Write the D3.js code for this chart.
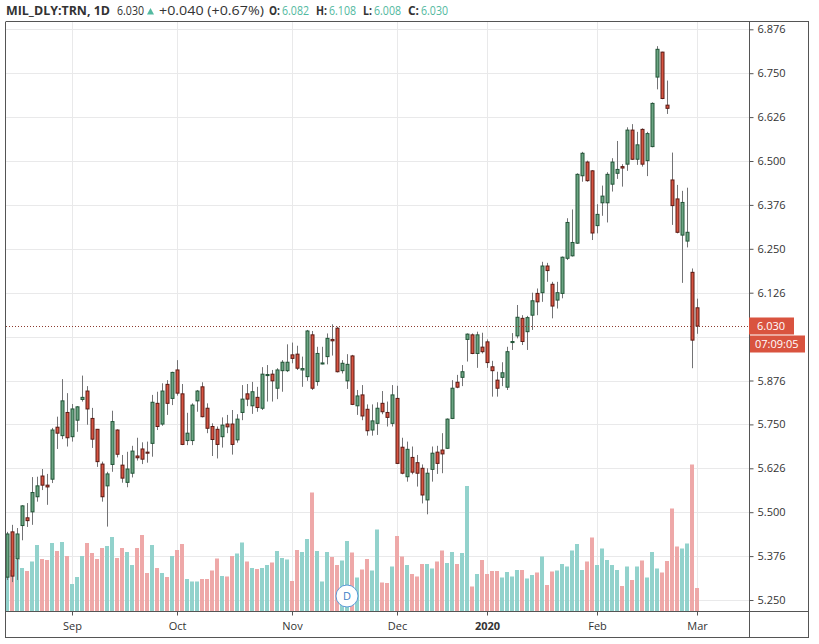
<!DOCTYPE html>
<html>
<head>
<meta charset="utf-8">
<script src="https://cdn.jsdelivr.net/npm/d3@7"></script>
<style>
  body { margin: 0; background: #fff; }
  svg { display: block; font-family: "Open Sans", sans-serif; }
</style>
</head>
<body>
<svg width="819" height="644"></svg>
<script>
// daily bars, Aug 13 2019 .. Mar 2 2020 (index = trading day)
var opens = [5.315,5.444,5.367,5.462,5.484,5.501,5.544,5.603,5.577,5.594,5.742,5.718,5.784,5.715,5.762,5.821,5.845,5.767,5.736,5.637,
  5.575,5.636,5.734,5.634,5.585,5.611,5.660,5.680,5.671,5.696,5.810,5.751,5.864,5.824,5.905,5.837,5.704,5.704,5.817,5.857,
  5.796,5.744,5.736,5.715,5.751,5.751,5.706,5.784,5.837,5.803,5.827,5.796,5.889,5.893,5.853,5.903,5.903,5.948,5.950,5.905,
  5.886,6.005,5.872,5.922,5.943,5.992,6.024,5.903,5.874,5.945,5.803,5.834,5.793,5.734,5.753,5.810,5.784,5.753,5.824,5.685,
  5.601,5.656,5.641,5.625,5.535,5.622,5.671,5.677,5.682,5.767,5.870,5.884,5.992,6.005,5.952,5.970,5.985,5.914,5.876,5.884,
  5.856,5.983,6.002,6.052,6.014,6.061,6.123,6.125,6.201,6.149,6.104,6.123,6.223,6.230,6.266,6.458,6.497,6.472,6.316,6.381,
  6.381,6.434,6.465,6.484,6.491,6.588,6.505,6.590,6.501,6.541,6.739,6.810,6.659,6.446,6.392,6.289,6.272,6.183,6.082];
var highs = [5.444,5.464,5.455,5.520,5.526,5.600,5.601,5.623,5.609,5.740,5.772,5.879,5.839,5.808,5.802,5.889,5.859,5.797,5.737,5.644,
  5.615,5.789,5.736,5.663,5.672,5.689,5.712,5.699,5.701,5.834,5.843,5.867,5.876,5.900,5.933,5.865,5.783,5.810,5.848,5.870,
  5.810,5.753,5.744,5.770,5.777,5.791,5.779,5.862,5.865,5.871,5.857,5.913,5.919,5.905,5.910,5.933,5.978,5.983,5.974,5.943,
  6.019,6.016,5.971,5.971,6.009,6.035,6.028,5.933,5.950,5.948,5.848,5.862,5.807,5.807,5.813,5.845,5.815,5.862,5.860,5.712,
  5.701,5.687,5.663,5.636,5.625,5.687,5.689,5.725,5.767,5.876,5.891,5.919,6.009,6.009,6.014,6.011,5.992,5.931,5.900,5.927,
  5.971,6.010,6.090,6.061,6.059,6.125,6.137,6.213,6.210,6.156,6.156,6.228,6.337,6.362,6.465,6.526,6.501,6.474,6.377,6.430,
  6.468,6.508,6.557,6.491,6.596,6.605,6.583,6.593,6.583,6.667,6.827,6.811,6.729,6.524,6.432,6.415,6.424,6.194,6.108];
var lows = [5.307,5.301,5.307,5.420,5.458,5.464,5.530,5.563,5.521,5.583,5.680,5.708,5.687,5.701,5.729,5.815,5.749,5.683,5.629,5.530,
  5.459,5.615,5.656,5.584,5.571,5.599,5.647,5.637,5.641,5.658,5.734,5.746,5.777,5.805,5.832,5.691,5.691,5.691,5.786,5.770,
  5.725,5.660,5.653,5.684,5.725,5.664,5.698,5.762,5.802,5.780,5.786,5.791,5.815,5.815,5.822,5.843,5.899,5.924,5.905,5.857,
  5.874,5.848,5.860,5.921,5.921,5.946,5.898,5.895,5.851,5.805,5.777,5.762,5.718,5.718,5.720,5.779,5.744,5.744,5.637,5.608,
  5.587,5.608,5.573,5.525,5.494,5.587,5.609,5.611,5.680,5.765,5.853,5.859,5.929,5.950,5.911,5.952,5.911,5.829,5.829,5.859,
  5.848,5.962,5.995,5.976,5.962,6.019,6.061,6.099,6.156,6.052,6.080,6.109,6.218,6.228,6.264,6.441,6.441,6.275,6.294,6.344,
  6.325,6.413,6.449,6.427,6.472,6.503,6.489,6.484,6.457,6.539,6.704,6.676,6.634,6.318,6.294,6.153,6.254,5.910,6.008];
var closes = [5.438,5.318,5.438,5.518,5.476,5.556,5.575,5.577,5.572,5.734,5.725,5.817,5.712,5.794,5.800,5.827,5.794,5.708,5.644,5.544,
  5.609,5.758,5.665,5.597,5.623,5.674,5.655,5.651,5.668,5.813,5.744,5.845,5.810,5.898,5.839,5.693,5.725,5.805,5.845,5.772,
  5.739,5.707,5.693,5.748,5.743,5.693,5.765,5.822,5.822,5.843,5.798,5.893,5.892,5.874,5.905,5.927,5.927,5.938,5.910,5.909,
  6.016,5.853,5.952,5.925,5.995,5.988,5.900,5.924,5.921,5.807,5.831,5.774,5.732,5.760,5.796,5.786,5.770,5.834,5.639,5.611,
  5.679,5.614,5.611,5.549,5.611,5.668,5.639,5.666,5.765,5.853,5.856,5.900,6.007,5.952,6.005,5.957,5.926,5.903,5.853,5.897,
  5.957,5.986,6.055,5.986,6.054,6.102,6.099,6.201,6.188,6.087,6.125,6.226,6.325,6.268,6.462,6.522,6.444,6.295,6.348,6.400,
  6.462,6.497,6.476,6.480,6.588,6.505,6.546,6.491,6.578,6.664,6.818,6.678,6.650,6.373,6.297,6.382,6.297,5.990,6.030];
// volume, millions of shares
var volumes = [7.2,8.2,10.2,8.6,8.0,9.9,13.2,10.4,10.2,13.6,12.0,13.8,11.0,5.4,6.8,11.0,13.6,11.6,10.4,12.6,
  13.0,14.8,10.6,12.6,11.8,9.2,12.6,15.2,7.6,13.2,8.6,7.6,6.8,11.0,12.2,13.4,6.4,5.9,5.9,6.4,
  6.4,8.1,10.5,7.0,6.9,11.0,11.5,13.7,9.9,8.6,8.4,8.6,9.2,9.7,12.0,10.6,10.3,6.0,12.2,11.8,
  14.4,23.7,12.0,5.9,11.8,10.8,9.2,10.1,14.0,11.7,6.7,8.3,10.4,8.1,16.3,5.7,5.6,8.9,15.0,10.9,
  9.2,7.4,6.9,9.4,9.4,8.5,9.9,12.1,9.6,11.8,9.4,11.6,25.0,4.9,7.4,10.2,7.4,8.0,8.0,6.7,
  7.8,6.9,8.2,8.2,6.5,7.2,7.7,10.9,5.2,7.9,8.1,9.4,8.9,12.1,13.4,8.2,9.9,14.7,9.2,12.5,
  10.2,9.2,8.2,5.0,8.9,6.2,8.9,10.1,6.7,11.8,8.5,7.7,10.0,20.5,12.9,12.5,13.5,29.3,4.6];

var monthLabels = ["Sep", "Oct", "Nov", "Dec", "2020", "Feb", "Mar"];
var monthIndex = [13, 34, 57, 78, 96, 118, 138];
var priceTicks = [5.25, 5.375, 5.5, 5.625, 5.75, 5.875, 6.0, 6.125, 6.25, 6.375, 6.5, 6.625, 6.75, 6.875];
// 6.000 sits under the last-price label, so it shows no text
var priceTickLabels = ["5.250","5.376","5.500","5.626","5.750","5.876","","6.126","6.250","6.376","6.500","6.626","6.750","6.876"];
var dividendIndex = 68;

var upColor = "#6ba583", downColor = "#d75442";
var upBorder = "#225437", downBorder = "#5b1a13";
var wickColor = "#737375";
var volUp = "#92d2cc", volDown = "#eea8a8";
var gridColor = "#e9e9ea", frameColor = "#555";
var legendTeal = "#53b9a0";

var svg = d3.select("svg");
var pL = 6, pR = 749, pT = 22, pB = 611;

var x = d3.scaleLinear().domain([0, 138]).range([7, 697]);
var y = d3.scaleLinear().domain([5.25, 6.875]).range([600, 29.3]);
var yVol = d3.scaleLinear().domain([0, 30]).range([pB, pB - 150]);

var bars = d3.range(opens.length).map(function(i) {
  return {i: i, o: opens[i], h: highs[i], l: lows[i], c: closes[i], v: volumes[i]};
});

svg.append("clipPath").attr("id", "plot")
  .append("rect").attr("x", pL).attr("y", pT).attr("width", pR - pL).attr("height", pB - pT);

// grid
var grid = svg.append("g").attr("clip-path", "url(#plot)");
grid.selectAll(".hg").data(priceTicks).enter().append("line")
  .attr("x1", pL).attr("x2", pR)
  .attr("y1", function(d) { return Math.round(y(d)) + 0.5; })
  .attr("y2", function(d) { return Math.round(y(d)) + 0.5; })
  .attr("stroke", gridColor);
grid.selectAll(".vg").data(monthIndex).enter().append("line")
  .attr("y1", pT).attr("y2", pB)
  .attr("x1", function(d) { return Math.round(x(d)) + 0.5; })
  .attr("x2", function(d) { return Math.round(x(d)) + 0.5; })
  .attr("stroke", gridColor);

var plot = svg.append("g").attr("clip-path", "url(#plot)");

// volume
plot.selectAll(".vol").data(bars).enter().append("rect")
  .attr("x", function(d) { return Math.round(x(d.i)) - 2; })
  .attr("width", 4)
  .attr("y", function(d) { return yVol(d.v); })
  .attr("height", function(d) { return pB - yVol(d.v); })
  .attr("fill", function(d) { return d.c >= d.o ? volUp : volDown; });

// candles
var candle = plot.selectAll(".candle").data(bars).enter().append("g");
candle.append("line")
  .attr("x1", function(d) { return Math.round(x(d.i)) + 0.5; })
  .attr("x2", function(d) { return Math.round(x(d.i)) + 0.5; })
  .attr("y1", function(d) { return y(d.h); })
  .attr("y2", function(d) { return y(d.l); })
  .attr("stroke", wickColor);
candle.append("rect")
  .attr("x", function(d) { return Math.round(x(d.i)) - 1; })
  .attr("width", 3)
  .attr("y", function(d) { return y(Math.max(d.o, d.c)); })
  .attr("height", function(d) { return Math.max(1, Math.abs(y(d.o) - y(d.c))); })
  .attr("fill", function(d) { return d.c >= d.o ? upColor : downColor; })
  .attr("stroke", function(d) { return d.c >= d.o ? upBorder : downBorder; })
  .attr("stroke-width", 1);

// last price line
var last = bars[bars.length - 1];
var py = Math.round(y(last.c)) + 0.5;
plot.append("line")
  .attr("x1", pL).attr("x2", pR).attr("y1", py).attr("y2", py)
  .attr("stroke", "#8c3b2f").attr("stroke-dasharray", "1,2");

// dividend marker
var dm = svg.append("g").attr("transform", "translate(" + x(dividendIndex) + ",596)");
dm.append("circle").attr("r", 11).attr("fill", "#fff").attr("stroke", "#5a9ad8").attr("stroke-width", 1);
dm.append("text").attr("text-anchor", "middle").attr("dy", "0.35em")
  .attr("font-size", 11).attr("fill", "#3d7fc6").text("D");

// frame
svg.append("line").attr("x1", pL).attr("x2", 809).attr("y1", 21.5).attr("y2", 21.5).attr("stroke", frameColor);
svg.append("line").attr("x1", 5.5).attr("x2", 5.5).attr("y1", 21.5).attr("y2", 638).attr("stroke", frameColor);
svg.append("line").attr("x1", 808.5).attr("x2", 808.5).attr("y1", 21.5).attr("y2", 638).attr("stroke", frameColor);
svg.append("line").attr("x1", 5.5).attr("x2", 809).attr("y1", 637.5).attr("y2", 637.5).attr("stroke", frameColor);

// right price axis
var yAxis = d3.axisRight(y).tickValues(priceTicks).tickSize(4).tickPadding(4)
  .tickFormat(function(d, i) { return priceTickLabels[i]; });
var ya = svg.append("g").attr("transform", "translate(" + pR + ".5,0)").call(yAxis);
ya.select(".domain").attr("d", "M0,21.5V638").attr("stroke", frameColor);
ya.selectAll(".tick line").attr("stroke", frameColor);
ya.selectAll(".tick text").attr("font-family", "Open Sans").attr("font-size", 11).attr("fill", "#333");

// bottom time axis
var xAxis = d3.axisBottom(x).tickValues(monthIndex).tickSize(4).tickPadding(7)
  .tickFormat(function(d, i) { return monthLabels[i]; });
var xa = svg.append("g").attr("transform", "translate(0," + pB + ".5)").call(xAxis);
xa.select(".domain").attr("d", "M5.5,0H809").attr("stroke", frameColor);
xa.selectAll(".tick line").attr("stroke", frameColor);
xa.selectAll(".tick text").attr("font-family", "Open Sans").attr("font-size", 11).attr("fill", "#333")
  .attr("font-weight", function(d, i) { return monthLabels[i] === "2020" ? "bold" : "normal"; });

// last price labels
var lbl = svg.append("g");
lbl.append("rect").attr("x", pR).attr("y", py - 9).attr("width", 45).attr("height", 17).attr("fill", "#d9533f");
lbl.append("text").attr("x", pR + 8).attr("y", py).attr("dy", "0.35em")
  .attr("font-size", 11).attr("fill", "#fff").text(last.c.toFixed(3));
lbl.append("rect").attr("x", pR + 1).attr("y", py + 9).attr("width", 55).attr("height", 17).attr("fill", "#d9533f");
lbl.append("text").attr("x", pR + 6).attr("y", py + 17.5).attr("dy", "0.35em")
  .attr("font-size", 11).attr("fill", "#fff").text("07:09:05");

// header legend, each piece placed where the reference has it
var prev = closes[closes.length - 2];
var chg = last.c - prev;
var head = svg.append("g").attr("font-size", 13).attr("fill", "#333");
function headText(px, len, str, bold, color) {
  head.append("text").attr("x", px).attr("y", 15)
    .attr("textLength", len).attr("lengthAdjust", "spacingAndGlyphs")
    .attr("font-weight", bold ? "bold" : "normal")
    .attr("fill", color || "#333").text(str);
}
headText(6, 104, "MIL_DLY:TRN, 1D", true);
headText(117, 27, last.c.toFixed(3), false);
head.append("path").attr("d", "M147,14.5L150.5,8L154,14.5Z").attr("fill", legendTeal);
headText(159, 105, "+" + chg.toFixed(3) + " (+" + (chg / prev * 100).toFixed(2) + "%)", false);
var ohlc = [["O:", last.o, 269, 282], ["H:", last.h, 316, 329], ["L:", last.l, 363, 374], ["C:", last.c, 408, 421]];
ohlc.forEach(function(p) {
  headText(p[2], p[3] - p[2] - 2, p[0], true);
  headText(p[3], 27, p[1].toFixed(3), false, legendTeal);
});
</script>
</body>
</html>
